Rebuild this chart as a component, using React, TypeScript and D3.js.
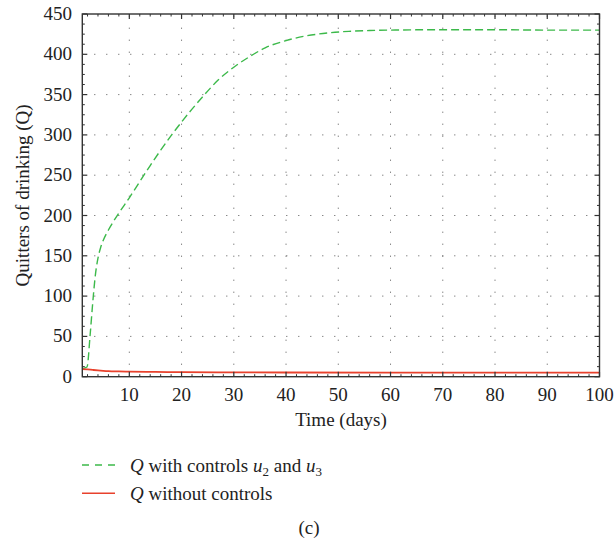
import React from "react";
import * as d3 from "d3";

const greenT = [1, 1.9, 2.5, 3, 3.5, 4, 4.5, 5, 6, 7, 8, 10, 12, 14, 16, 18, 20, 22, 24, 27, 30, 33, 36, 40, 44, 48, 52, 56, 60, 70, 80, 90, 100];
const greenQ = [10, 12, 52, 92, 126, 147, 160, 169, 182, 193, 203, 222, 242, 262, 281, 299, 316, 332, 347, 368, 384, 397, 408, 417, 423, 426.5, 428.5, 429.5, 430, 430.5, 430.5, 430, 430];
const redT = [1, 2, 3, 4, 5, 6, 8, 10, 15, 20, 30, 40, 60, 80, 100];
const redQ = [9.5, 9, 8.4, 7.8, 7.3, 6.9, 6.5, 6.2, 5.9, 5.6, 5.4, 5.2, 5.1, 5, 5];
const xTicks = [10, 20, 30, 40, 50, 60, 70, 80, 90, 100];
const yTicks = [0, 50, 100, 150, 200, 250, 300, 350, 400, 450];

const W = 615, H = 548;
const L = 82.3, R = 599.5, T = 14, B = 376.7;
const FONT = "'Liberation Serif', 'Noto Serif', 'DejaVu Serif', Tinos, 'Times New Roman', Times, serif";

export default function App() {
  const x = d3.scaleLinear().domain([1, 100]).range([L, R]);
  const y = d3.scaleLinear().domain([0, 450]).range([B, T]);
  const line = d3.line<[number, number]>().x(d => x(d[0])).y(d => y(d[1])).curve(d3.curveMonotoneX);
  const green = line(greenT.map((t, i) => [t, greenQ[i]] as [number, number])) || "";
  const red = line(redT.map((t, i) => [t, redQ[i]] as [number, number])) || "";
  const xMinor = d3.range(2, 100, 2).filter(v => v % 10 !== 0);
  const yMinor = d3.range(12.5, 450, 12.5).filter(v => v % 50 !== 0);
  const axisColor = "#333";
  const txt = { style: { fontFamily: FONT, fontSize: "19px" }, fill: "#222" } as const;
  return (
    <svg width={W} height={H} style={{ position: "absolute", left: 0, top: 0, background: "#fff" }}>
      {xTicks.filter(v => v < 100).map(v => (
        <line key={"gx" + v} x1={x(v)} x2={x(v)} y1={B} y2={T} stroke="#555" strokeWidth={1} strokeDasharray="1 11" />
      ))}
      {yTicks.filter(v => v > 0 && v < 450).map(v => (
        <line key={"gy" + v} x1={L} x2={R} y1={y(v)} y2={y(v)} stroke="#555" strokeWidth={1} strokeDasharray="1 11" />
      ))}
      <path d={green} fill="none" stroke="#3cb94a" strokeWidth={1.4} strokeDasharray="8 4" />
      <path d={red} fill="none" stroke="#e8412c" strokeWidth={1.8} />
      <rect x={L} y={T} width={R - L} height={B - T} fill="none" stroke={axisColor} strokeWidth={1.4} />
      {xTicks.map(v => (
        <g key={"tx" + v}>
          <line x1={x(v)} x2={x(v)} y1={B} y2={B - 5} stroke={axisColor} strokeWidth={1.2} />
          <line x1={x(v)} x2={x(v)} y1={T} y2={T + 5} stroke={axisColor} strokeWidth={1.2} />
        </g>
      ))}
      {yTicks.map(v => (
        <g key={"ty" + v}>
          <line x1={L} x2={L + 5} y1={y(v)} y2={y(v)} stroke={axisColor} strokeWidth={1.2} />
          <line x1={R} x2={R - 5} y1={y(v)} y2={y(v)} stroke={axisColor} strokeWidth={1.2} />
        </g>
      ))}
      {xMinor.map(v => (
        <g key={"mx" + v}>
          <line x1={x(v)} x2={x(v)} y1={B} y2={B - 2.5} stroke={axisColor} strokeWidth={1} />
          <line x1={x(v)} x2={x(v)} y1={T} y2={T + 2.5} stroke={axisColor} strokeWidth={1} />
        </g>
      ))}
      {yMinor.map(v => (
        <g key={"my" + v}>
          <line x1={L} x2={L + 2.5} y1={y(v)} y2={y(v)} stroke={axisColor} strokeWidth={1} />
          <line x1={R} x2={R - 2.5} y1={y(v)} y2={y(v)} stroke={axisColor} strokeWidth={1} />
        </g>
      ))}
      {xTicks.map(v => (
        <text key={"lx" + v} x={x(v)} y={401} textAnchor="middle" {...txt}>{v}</text>
      ))}
      {yTicks.map(v => (
        <text key={"ly" + v} x={72} y={y(v) + 6} textAnchor="end" {...txt}>{v}</text>
      ))}
      <text x={341} y={426} textAnchor="middle" {...txt}>Time (days)</text>
      <text transform={`translate(29,${(T + B) / 2}) rotate(-90)`} textAnchor="middle" {...txt}>Quitters of drinking (Q)</text>
      <line x1={82} x2={115} y1={465} y2={465} stroke="#3cb94a" strokeWidth={1.4} strokeDasharray="7 6" />
      <text x={130} y={471.5} {...txt}>
        <tspan fontStyle="italic">Q</tspan> with controls <tspan fontStyle="italic">u</tspan><tspan style={{ fontSize: "13px" }} dy={4}>2</tspan><tspan dy={-4}> and </tspan><tspan fontStyle="italic">u</tspan><tspan style={{ fontSize: "13px" }} dy={4}>3</tspan>
      </text>
      <line x1={82} x2={115} y1={493.3} y2={493.3} stroke="#e8412c" strokeWidth={1.4} />
      <text x={130} y={499.5} {...txt}>
        <tspan fontStyle="italic">Q</tspan> without controls
      </text>
      <text x={309} y={534} textAnchor="middle" {...txt}>(c)</text>
    </svg>
  );
}
